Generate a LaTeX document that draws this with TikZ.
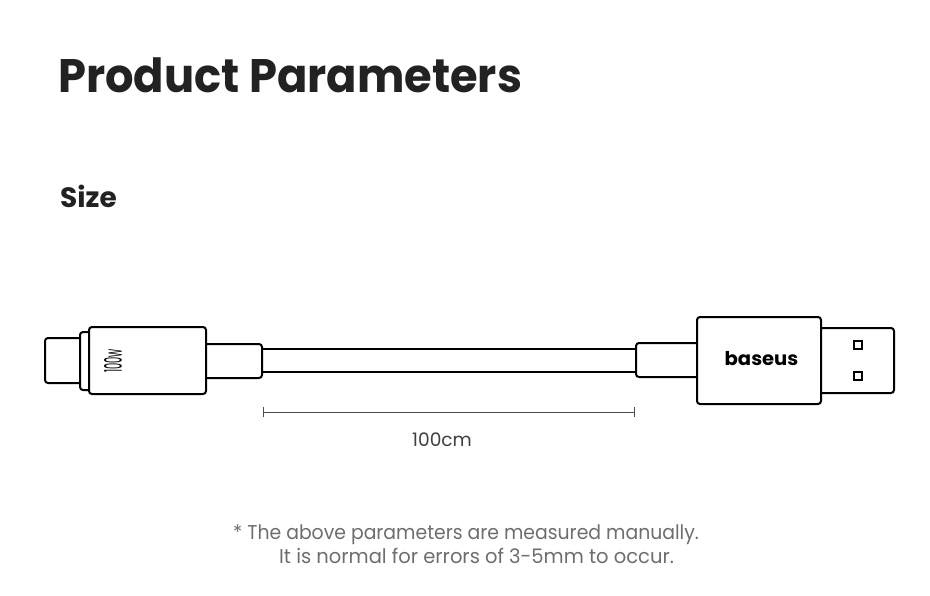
\documentclass[tikz,border=0pt]{standalone}
\usepackage{fontspec}
\setmainfont{Poppins}
\definecolor{titleink}{HTML}{222222}
\definecolor{noteink}{HTML}{6E6E6E}
\tikzset{
	outline/.style={draw=black, line width=2pt, fill=white, rounded corners=3pt},
	dimline/.style={draw=black!70, line width=0.7pt},
}
\begin{document}
\begin{tikzpicture}[x=1pt, y=-1pt]
	\useasboundingbox[fill=white] (0,0) rectangle (930,595);
	% headings
	\node[anchor=base west, inner sep=0, text=titleink, font=\fontsize{47}{47}\selectfont\bfseries] (title) at (58,92) {\scalebox{0.953}[1]{Product Parameters}};
	\node[anchor=base west, inner sep=0, text=titleink, font=\fontsize{28}{28}\selectfont\bfseries] (size) at (60,207) {Size};
	% cable
	\draw[outline, rounded corners=0pt] (255,349) rectangle (645,372);
	% type-c end
	\draw[outline] (45,338) rectangle (90,383);
	\draw[outline] (80,332) rectangle (100,390);
	\draw[outline] (200,344) rectangle (262,378);
	\draw[outline] (89,327) rectangle (206,394);
	\node[rotate=90, inner sep=0, font=\fontsize{11}{11}\selectfont] (watt) at (113,361) {\scalebox{0.9}[2.2]{100w}};
	% usb end
	\draw[outline] (636,343) rectangle (705,377);
	\draw[outline] (810,328) rectangle (894,393);
	\draw[outline] (697,317) rectangle (821,404);
	\draw[outline, rounded corners=0pt] (854,341) rectangle (862,349);
	\draw[outline, rounded corners=0pt] (854,372) rectangle (862,380);
	\node[inner sep=0, font=\fontsize{19}{19}\selectfont\bfseries] (brand) at (761.5,359) {\scalebox{1.03}[1]{baseus}};
	% length
	\coordinate (lenl) at (263.5,412);
	\coordinate (lenr) at (634.5,412);
	\draw[dimline] (lenl) -- (lenr);
	\draw[dimline] ([yshift=-5pt]lenl) -- ([yshift=5pt]lenl);
	\draw[dimline] ([yshift=-5pt]lenr) -- ([yshift=5pt]lenr);
	\node[anchor=base, inner sep=0, text=black!75, font=\fontsize{18.6}{19}\selectfont] (len) at (442,446) {100cm};
	% note
	\node[anchor=base west, inner sep=0, text=noteink, font=\fontsize{20}{20}\selectfont] (note1) at (233,539) {\scalebox{0.941}[1]{* The above parameters are measured manually.}};
	\node[anchor=base west, inner sep=0, text=noteink, font=\fontsize{20}{20}\selectfont] (note2) at (279,563) {\scalebox{0.975}[1]{It is normal for errors of 3-5mm to occur.}};
\end{tikzpicture}
\end{document}
